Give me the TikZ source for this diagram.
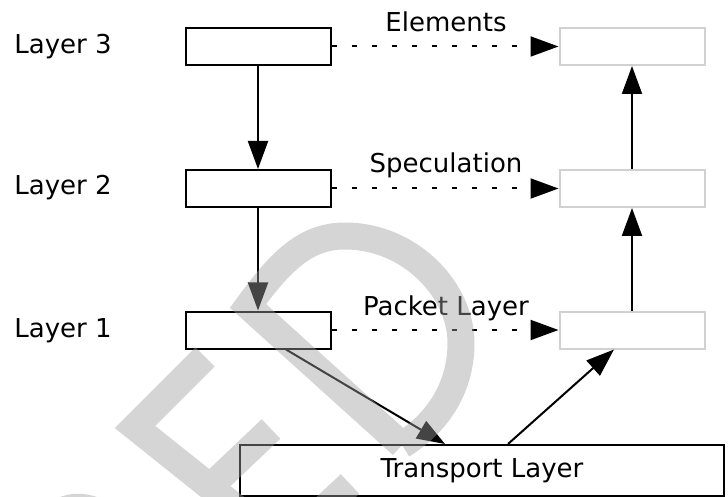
\documentclass[tikz,border=0pt]{standalone}
\usepackage{fontspec}
\setmainfont{DejaVu Sans}
\usetikzlibrary{arrows.meta,positioning}

\begin{document}
\begin{tikzpicture}[x=0.5pt,y=-0.5pt,
  every node/.style={font=\fontsize{13}{15}\selectfont},
  layerbox/.style={rectangle,draw=black,line width=1pt,minimum width=72.5pt,minimum height=18.5pt,inner sep=0pt},
  ghostbox/.style={layerbox,draw=black!18},
  tag/.style={inner sep=0pt},
  flow/.style={-{Triangle[length=14pt,width=10pt]},line width=1pt},
  hint/.style={flow,dash pattern=on 2.5pt off 7.5pt},
  stamp/.style={draw=black!38,opacity=0.43,line width=13.5pt}]
\useasboundingbox (0,0) rectangle (728,497);
% \draw[help lines] (0,0) grid (728,497);
\node (l3) [layerbox] at (258,46.5) {};
\node (l2) [layerbox] at (258,188.5) {};
\node (l1) [layerbox] at (258,330) {};
\node (r3) [ghostbox] at (632,46.5) {};
\node (r2) [ghostbox] at (632,188.5) {};
\node (r1) [ghostbox] at (632,330) {};
\node (tl) [layerbox,minimum width=242pt,minimum height=25.5pt] at (482,470.5) {Transport Layer};
%
\node (t3) [tag,anchor=base west] at (14,54) {Layer 3};
\node (t2) [tag,anchor=base west] at (14,195) {Layer 2};
\node (t1) [tag,anchor=base west] at (14,337) {Layer 1};
\node (h3) [tag,anchor=base] at (446,32) {Elements};
\node (h2) [tag,anchor=base] at (446,173) {Speculation};
\node (h1) [tag,anchor=base] at (446,315) {Packet Layer};
%
\path[flow] (l3) edge (l2);
\path[flow] (l2) edge (l1);
\path[flow] (r1) edge (r2);
\path[flow] (r2) edge (r3);
\path[hint] (l3) edge (r3);
\path[hint] (l2) edge (r2);
\path[hint] (l1) edge (r1);
\draw[flow] ([xshift=14pt]l1.south) -- ([xshift=-18.5pt]tl.north);
\draw[flow] ([xshift=13pt]tl.north) -- ([xshift=-9pt]r1.south);
%
\begin{scope}
\clip (0,0) rectangle (728,497);
\draw[stamp] (50,520) .. controls (65,503) and (90,503) .. (110,520)
  (205,357) -- (135,427) -- (284,546) -- (350,484)
  (210,487) -- (271,429)
  (402,445) -- (248,306) .. controls (280,262) and (305,236) .. (345,236)
  .. controls (410,236) and (461,290) .. (461,343)
  .. controls (461,390) and (435,425) .. (402,445);
\end{scope}
\end{tikzpicture}
\end{document}
